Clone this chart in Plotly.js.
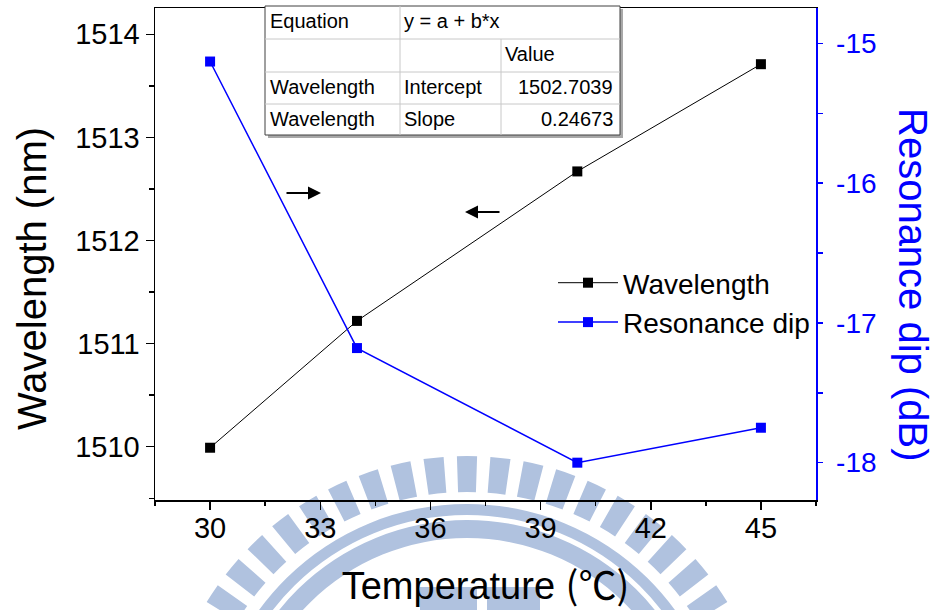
<!DOCTYPE html>
<html>
<head>
<meta charset="utf-8">
<script src="https://cdn.plot.ly/plotly-3.0.1.min.js"></script>
<style>
  html, body { margin: 0; padding: 0; background: #ffffff; }
  #wrap { position: relative; width: 935px; height: 610px; overflow: hidden; }
  #wm { position: absolute; left: 0; top: 0; z-index: 0; }
  #chart { position: absolute; left: 0; top: 0; width: 935px; height: 610px; z-index: 1; }
</style>
</head>
<body>
<div id="wrap">
  <svg id="wm" width="935" height="610" xmlns="http://www.w3.org/2000/svg"></svg>
  <div id="chart"></div>
</div>
<script>
// ---------------- data ----------------
const temperature = [30, 34, 40, 45];
const wavelength = [1509.99, 1511.22, 1512.67, 1513.71];
const resonanceDip = [-15.13, -17.18, -18.00, -17.75];

const xTicks = [30, 33, 36, 39, 42, 45];
const yLeftTicks = [1510, 1511, 1512, 1513, 1514];
const yRightTicks = [-15, -16, -17, -18];

const tableCol1 = ["Equation", "", "Wavelength", "Wavelength"];
const tableCol2 = ["y = a + b*x", "", "Intercept", "Slope"];
const tableCol3 = ["", "Value", "1502.7039", "0.24673"];

// ---------------- watermark (decorative background) ----------------
(function drawWatermark() {
  const svg = document.getElementById('wm');
  const col = '#b0c2df';
  const cx = 467, cy = 761;
  const ns = 'http://www.w3.org/2000/svg';
  function sector(r0, r1, a0, a1) {
    const p = (r, a) => {
      const t = a * Math.PI / 180;
      return [cx + r * Math.sin(t), cy - r * Math.cos(t)];
    };
    const [x1, y1] = p(r1, a0), [x2, y2] = p(r1, a1);
    const [x3, y3] = p(r0, a1), [x4, y4] = p(r0, a0);
    const large = (a1 - a0) > 180 ? 1 : 0;
    return `M${x1},${y1} A${r1},${r1} 0 ${large} 1 ${x2},${y2} L${x3},${y3} A${r0},${r0} 0 ${large} 0 ${x4},${y4} Z`;
  }
  let d = '';
  const period = 6.3, half = 1.9;
  for (let k = -16; k <= 16; k++) {
    const a = k * period;
    d += sector(269, 305, a - half, a + half);
  }
  d += sector(246, 257, -89, 89);
  d += sector(223, 241, -89, 89);
  const path = document.createElementNS(ns, 'path');
  path.setAttribute('d', d);
  path.setAttribute('fill', col);
  svg.appendChild(path);
  [[420, 587, 57, 30], [487, 587, 53, 30]].forEach(r => {
    const el = document.createElementNS(ns, 'rect');
    el.setAttribute('x', r[0]); el.setAttribute('y', r[1]);
    el.setAttribute('width', r[2]); el.setAttribute('height', r[3]);
    el.setAttribute('fill', col);
    svg.appendChild(el);
  });
})();

// ---------------- layout helpers (pixel -> paper) ----------------
const M = { l: 155, r: 119, t: 8, b: 110 };
const W = 935, H = 610;
const PW = W - M.l - M.r, PH = H - M.t - M.b;
const px = X => (X - M.l) / PW;
const py = Y => (H - M.b - Y) / PH;

const FONT = 'Liberation Sans, Arial, Noto Sans CJK SC, sans-serif';
const CLEAR = 'rgba(0,0,0,0)';

// ---------------- traces ----------------
const traces = [
  {
    x: temperature, y: wavelength, name: 'Wavelength',
    type: 'scatter', mode: 'lines+markers',
    line: { color: '#000000', width: 1 },
    marker: { symbol: 'square', size: 10, color: '#000000' },
    xaxis: 'x', yaxis: 'y'
  },
  {
    x: temperature, y: resonanceDip, name: 'Resonance dip',
    type: 'scatter', mode: 'lines+markers',
    line: { color: '#0000ff', width: 1.5 },
    marker: { symbol: 'square', size: 10, color: '#0000ff' },
    xaxis: 'x', yaxis: 'y2'
  },
  // empty helper traces so the tick-only overlay axes get drawn
  { x: [], y: [], type: 'scatter', mode: 'markers', xaxis: 'x3', yaxis: 'y',
    showlegend: false, hoverinfo: 'skip' },
  { x: [], y: [], type: 'scatter', mode: 'markers', xaxis: 'x', yaxis: 'y3',
    showlegend: false, hoverinfo: 'skip' }
];

// ---------------- table shapes & text ----------------
const tL = 265, tR = 620, tT = 6, tB = 135;
const rowY = [6, 39, 72, 104, 135];
const colX = [265, 400, 501, 620];
const shapes = [];
shapes.push({ type: 'rect', xref: 'paper', yref: 'paper', layer: 'above',
  x0: px(tL + 3), x1: px(tR + 3), y0: py(tT + 3), y1: py(tB + 3),
  fillcolor: '#a8a8a8', line: { width: 0 } });
shapes.push({ type: 'rect', xref: 'paper', yref: 'paper', layer: 'above',
  x0: px(tL), x1: px(tR), y0: py(tT), y1: py(tB),
  fillcolor: '#ffffff', line: { color: '#404040', width: 1 } });
for (let i = 1; i < 4; i++) {
  shapes.push({ type: 'line', xref: 'paper', yref: 'paper', layer: 'above',
    x0: px(tL), x1: px(tR), y0: py(rowY[i]), y1: py(rowY[i]),
    line: { color: '#c8c8c8', width: 1 } });
}
shapes.push({ type: 'line', xref: 'paper', yref: 'paper', layer: 'above',
  x0: px(colX[1]), x1: px(colX[1]), y0: py(tT), y1: py(tB),
  line: { color: '#c8c8c8', width: 1 } });
shapes.push({ type: 'line', xref: 'paper', yref: 'paper', layer: 'above',
  x0: px(colX[2]), x1: px(colX[2]), y0: py(rowY[1]), y1: py(tB),
  line: { color: '#c8c8c8', width: 1 } });

const annotations = [];
const rowC = [21, 54, 87, 119];
const TF = { family: FONT, size: 20, color: '#000' };
for (let i = 0; i < 4; i++) {
  if (tableCol1[i]) annotations.push({ xref: 'paper', yref: 'paper', x: px(268), y: py(rowC[i]),
    xanchor: 'left', yanchor: 'middle', showarrow: false, text: tableCol1[i], font: TF });
  if (tableCol2[i]) annotations.push({ xref: 'paper', yref: 'paper', x: px(402), y: py(rowC[i]),
    xanchor: 'left', yanchor: 'middle', showarrow: false, text: tableCol2[i], font: TF });
  if (tableCol3[i]) {
    const right = i >= 2;
    annotations.push({ xref: 'paper', yref: 'paper', x: right ? px(615) : px(503), y: py(rowC[i]),
      xanchor: right ? 'right' : 'left', yanchor: 'middle', showarrow: false, text: tableCol3[i], font: TF });
  }
}
// arrows pointing to the axes
annotations.push({ xref: 'paper', yref: 'paper', x: px(321), y: py(193), ax: -36, ay: 0,
  axref: 'pixel', ayref: 'pixel', text: '', showarrow: true, arrowhead: 2, arrowsize: 1.3,
  arrowwidth: 2, arrowcolor: '#000' });
annotations.push({ xref: 'paper', yref: 'paper', x: px(465), y: py(212), ax: 36, ay: 0,
  axref: 'pixel', ayref: 'pixel', text: '', showarrow: true, arrowhead: 2, arrowsize: 1.3,
  arrowwidth: 2, arrowcolor: '#000' });
// left axis title
annotations.push({ xref: 'paper', yref: 'paper', x: px(32), y: py(279), xanchor: 'center', yanchor: 'middle',
  showarrow: false, textangle: -90, text: 'Wavelength (nm)',
  font: { family: FONT, size: 40, color: '#000000' } });
// right axis title (reads top to bottom)
annotations.push({ xref: 'paper', yref: 'paper', x: px(913), y: py(285), xanchor: 'center', yanchor: 'middle',
  showarrow: false, textangle: 90, text: 'Resonance dip (dB)',
  font: { family: FONT, size: 40, color: '#0000ff' } });

const layout = {
  width: W, height: H,
  margin: M,
  paper_bgcolor: CLEAR,
  plot_bgcolor: CLEAR,
  showlegend: true,
  legend: {
    x: px(553), y: py(258), xanchor: 'left', yanchor: 'top',
    bgcolor: CLEAR, borderwidth: 0,
    font: { family: FONT, size: 28, color: '#000' },
    itemwidth: 60, tracegroupgap: 0
  },
  // bottom axis: line + tick labels (label distance set by a short invisible tick)
  xaxis: {
    range: [28.5, 46.5], tickvals: xTicks, ticktext: xTicks.map(String),
    ticks: 'outside', ticklen: 2, tickwidth: 1, tickcolor: CLEAR,
    showline: true, linecolor: '#000', linewidth: 1.5, mirror: true,
    showgrid: false, zeroline: false,
    tickfont: { family: FONT, size: 29, color: '#000' },
    title: { text: 'Temperature <span style="font-family:Noto Sans CJK TC">(℃)</span>',
      font: { family: FONT, size: 38, color: '#000' }, standoff: 32 }
  },
  // top ticks (inside)
  xaxis2: {
    overlaying: 'x', side: 'top', anchor: 'y', range: [28.5, 46.5], tickvals: xTicks,
    ticks: 'inside', ticklen: 8, tickwidth: 1.5, tickcolor: '#000',
    showticklabels: false, showline: false, showgrid: false, zeroline: false
  },
  // bottom visible ticks
  xaxis3: {
    overlaying: 'x', side: 'bottom', anchor: 'y', range: [28.5, 46.5], tickvals: xTicks,
    ticks: 'outside', ticklen: 9, tickwidth: 1.5, tickcolor: '#000',
    minor: { dtick: 1.5, tick0: 28.5, ticks: 'outside', ticklen: 5, tickwidth: 1.5, tickcolor: '#000' },
    showticklabels: false, showline: false, showgrid: false, zeroline: false
  },
  yaxis: {
    range: [1509.483, 1514.255], tickvals: yLeftTicks, ticktext: yLeftTicks.map(String),
    ticks: 'outside', ticklen: 8, tickwidth: 1.5, tickcolor: '#000',
    minor: { dtick: 0.5, tick0: 1509.5, ticks: 'outside', ticklen: 5, tickwidth: 1.5, tickcolor: '#000' },
    showline: true, linecolor: '#000', linewidth: 1.5,
    showgrid: false, zeroline: false,
    tickfont: { family: FONT, size: 29, color: '#000' }
  },
  // right axis: line + labels (label distance set by a longer invisible tick)
  yaxis2: {
    overlaying: 'y', side: 'right', anchor: 'x',
    range: [-18.267, -14.747], tickvals: yRightTicks, ticktext: yRightTicks.map(String),
    ticks: 'outside', ticklen: 13, tickwidth: 1, tickcolor: CLEAR,
    showline: true, linecolor: '#0000ff', linewidth: 1.5,
    showgrid: false, zeroline: false,
    tickfont: { family: FONT, size: 28, color: '#0000ff' }
  },
  // right visible ticks
  yaxis3: {
    overlaying: 'y', side: 'right', anchor: 'x',
    range: [-18.267, -14.747], tickvals: yRightTicks,
    ticks: 'outside', ticklen: 6, tickwidth: 1.5, tickcolor: '#0000ff',
    minor: { dtick: 0.5, tick0: -18.5, ticks: 'outside', ticklen: 6, tickwidth: 1.5, tickcolor: '#0000ff' },
    showticklabels: false, showline: false, showgrid: false, zeroline: false
  },
  shapes: shapes,
  annotations: annotations
};

Plotly.newPlot('chart', traces, layout, { displayModeBar: false, staticPlot: true });
</script>
</body>
</html>
